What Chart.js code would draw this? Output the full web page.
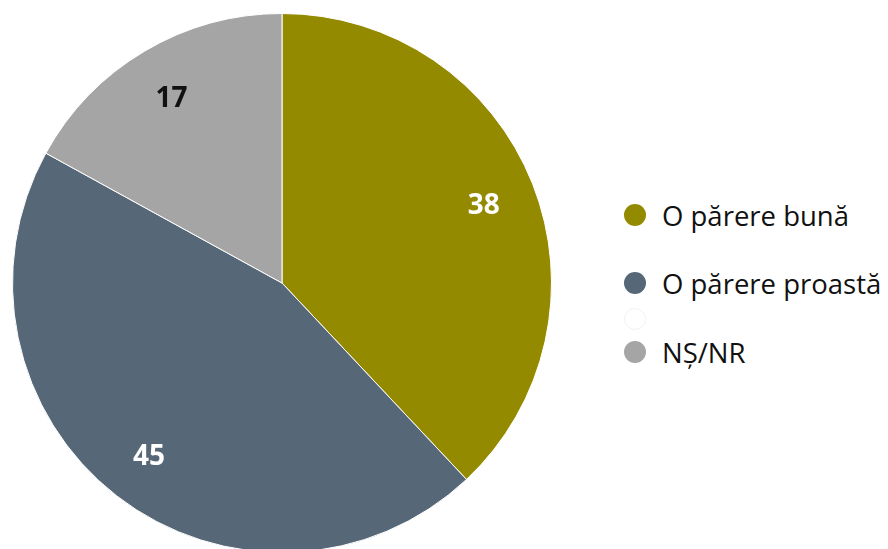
<!DOCTYPE html>
<html>
<head>
<meta charset="utf-8">
<script src="https://cdn.jsdelivr.net/npm/chart.js@4"></script>
<style>
  html, body { margin: 0; padding: 0; background: #fff; overflow: hidden; }
  body { width: 888px; height: 549px; position: relative; font-family: "Open Sans", "Noto Sans", sans-serif; }
  #wrap { position: absolute; left: 0; top: 1px; width: 564px; height: 564px; }
  #legend { position: absolute; left: 624px; top: 0; }
  .item { position: absolute; left: 0; display: flex; align-items: center; white-space: nowrap;
          font-size: 27.5px; color: #111; height: 30px; }
  .dot { width: 22px; height: 22px; border-radius: 50%; margin-right: 16px; box-sizing: border-box; }
</style>
</head>
<body>
<div id="wrap"><canvas id="pie"></canvas></div>
<div id="legend"></div>
<script>
// data
const labels = ['O părere bună', 'O părere proastă', '', 'NȘ/NR'];
const values = [38, 45, 0, 17];
const colors = ['#948a00', '#566778', '#ffffff', '#a5a5a5'];
const labelColors = ['#ffffff', '#ffffff', '#ffffff', '#111111'];

/* ── value labels inside slices ─────────────── */
const sliceLabels = {
  id: 'sliceLabels',
  afterDatasetsDraw(chart) {
    const { ctx } = chart;
    const meta = chart.getDatasetMeta(0);
    ctx.save();
    ctx.font = 'bold 28px "Open Sans", "Noto Sans", sans-serif';
    ctx.textAlign = 'center';
    ctx.textBaseline = 'middle';
    meta.data.forEach((arc, i) => {
      if (!values[i]) return;
      const { x, y, startAngle, endAngle, outerRadius } = arc.getProps(['x', 'y', 'startAngle', 'endAngle', 'outerRadius'], true);
      const mid = (startAngle + endAngle) / 2;
      const r = outerRadius * 0.805;
      ctx.fillStyle = labelColors[i];
      ctx.fillText(String(values[i]), x + Math.cos(mid) * r, y + Math.sin(mid) * r + 3);
    });
    ctx.restore();
  },
};

new Chart(document.getElementById('pie'), {
  type: 'pie',
  data: {
    labels,
    datasets: [{
      data: values,
      backgroundColor: colors,
      borderColor: '#ffffff',
      borderWidth: 1,
    }],
  },
  options: {
    responsive: true,
    maintainAspectRatio: false,
    animation: false,
    layout: { padding: 12 },
    plugins: { legend: { display: false }, tooltip: { enabled: false } },
  },
  plugins: [sliceLabels],
});

// html legend, rows placed like the original
const rowTops = [200, 268, 304, 337];
const legend = document.getElementById('legend');
labels.forEach((lab, i) => {
  const row = document.createElement('div');
  row.className = 'item';
  row.style.top = rowTops[i] + 'px';
  const dot = document.createElement('span');
  dot.className = 'dot';
  dot.style.background = colors[i];
  if (colors[i] === '#ffffff') dot.style.border = '1px solid #f2f2f2';
  const txt = document.createElement('span');
  txt.textContent = lab;
  row.appendChild(dot);
  row.appendChild(txt);
  legend.appendChild(row);
});
</script>
</body>
</html>
